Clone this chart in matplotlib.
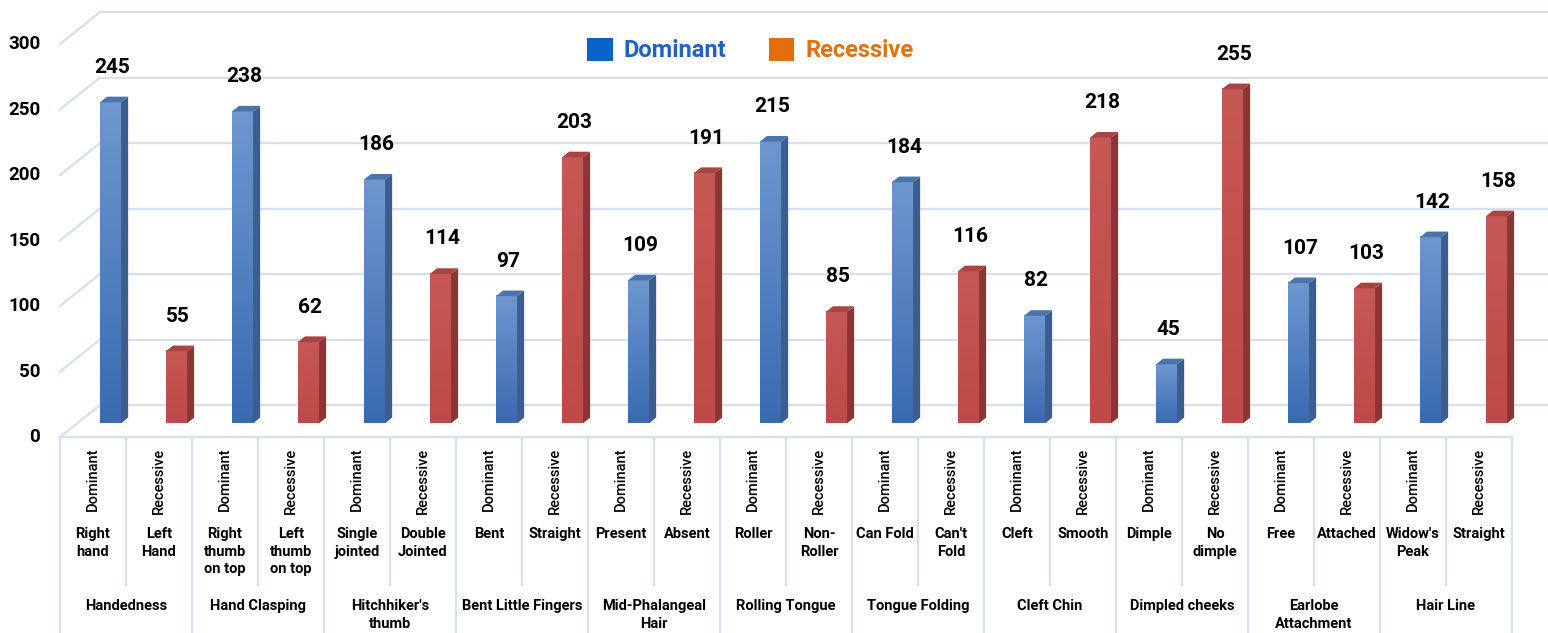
import numpy as np
import matplotlib
matplotlib.use('Agg')
import matplotlib.pyplot as plt
from matplotlib.patches import Polygon, Patch

plt.rcParams['font.family'] = ['Roboto', 'DejaVu Sans']
plt.rcParams['font.weight'] = 'bold'

# data
groups = ['Handedness', 'Hand Clasping', "Hitchhiker's\nthumb", 'Bent Little Fingers',
          'Mid-Phalangeal\nHair', 'Rolling Tongue', 'Tongue Folding', 'Cleft Chin',
          'Dimpled cheeks', 'Earlobe\nAttachment', 'Hair Line']
dominant_traits = ['Right\nhand', 'Right\nthumb\non top', 'Single\njointed', 'Bent', 'Present',
                   'Roller', 'Can Fold', 'Cleft', 'Dimple', 'Free', "Widow's\nPeak"]
recessive_traits = ['Left\nHand', 'Left\nthumb\non top', 'Double\nJointed', 'Straight', 'Absent',
                    'Non-\nRoller', "Can't\nFold", 'Smooth', 'No\ndimple', 'Attached', 'Straight']
dominant = [245, 238, 186, 97, 109, 215, 184, 82, 45, 107, 142]
recessive = [55, 62, 114, 203, 191, 85, 116, 218, 255, 103, 158]
yticks = [0, 50, 100, 150, 200, 250, 300]

# 3d look parameters (x in cells, y in value units)
depth_dx, depth_dy = 0.606, 24.4      # front -> back wall
bar_shift, bar_base = 0.266, 10.5     # where the bars stand on the floor
bar_w, bar_dx, bar_dy = 0.32, 0.106, 4.3
grid_c = '#D5E0F1'

fig = plt.figure(figsize=(15.48, 6.33), dpi=100)
ax = fig.add_axes([0, 0, 1, 1])
ax.axis('off')

n = 2 * len(dominant)
right = n

# walls / gridlines
for v in yticks:
    ax.plot([0, depth_dx], [v, v + depth_dy], color=grid_c, lw=1.6, zorder=1)
    ax.plot([depth_dx, right + depth_dx], [v + depth_dy, v + depth_dy], color=grid_c, lw=1.6, zorder=1)
    ax.text(-0.30, v, str(v), ha='right', va='center', fontsize=13.5, fontweight='bold')
ax.plot([0, right], [0, 0], color=grid_c, lw=1.6, zorder=1)

# category dividers
for k in range(n + 1):
    bottom = -150 if k % 2 == 0 else -113
    ax.plot([k, k], [0, bottom], color=grid_c, lw=1.6, zorder=1)


def draw_bar(i, v, top_c, bot_c, side_c, roof_c):
    x0 = i + 0.5 + bar_shift - bar_w / 2
    y0 = bar_base
    grad = np.linspace(0, 1, 64)[:, None, None]
    img = np.array(matplotlib.colors.to_rgb(bot_c)) * (1 - grad) + np.array(matplotlib.colors.to_rgb(top_c)) * grad
    ax.imshow(img, extent=[x0, x0 + bar_w, y0, y0 + v], origin='lower', aspect='auto', zorder=3)
    side = [(x0 + bar_w, y0), (x0 + bar_w + bar_dx, y0 + bar_dy),
            (x0 + bar_w + bar_dx, y0 + v + bar_dy), (x0 + bar_w, y0 + v)]
    roof = [(x0, y0 + v), (x0 + bar_w, y0 + v),
            (x0 + bar_w + bar_dx, y0 + v + bar_dy), (x0 + bar_dx, y0 + v + bar_dy)]
    ax.add_patch(Polygon(side, closed=True, fc=side_c, ec='none', zorder=3))
    ax.add_patch(Polygon(roof, closed=True, fc=roof_c, ec='none', zorder=3))
    ax.text(x0 + bar_w / 2 + 0.02, y0 + v + 22.5, str(v), ha='center', va='baseline',
            fontsize=15, fontweight='bold', zorder=4)


for g in range(len(dominant)):
    i_d, i_r = 2 * g, 2 * g + 1
    draw_bar(i_d, dominant[g], '#6E97CF', '#3A6BB1', '#3B5E8E', '#4B74AB')
    draw_bar(i_r, recessive[g], '#C65855', '#BD4A47', '#8A3634', '#A84442')
    for i, lab in ((i_d, 'Dominant'), (i_r, 'Recessive')):
        ax.text(i + 0.5, -8, lab, rotation=90, ha='center', va='top', fontsize=10.5, fontweight='medium')
    ax.text(i_d + 0.5, -69, dominant_traits[g], ha='center', va='top', fontsize=10.5,
            fontweight='bold', linespacing=1.3)
    ax.text(i_r + 0.5, -69, recessive_traits[g], ha='center', va='top', fontsize=10.5,
            fontweight='bold', linespacing=1.3)
    ax.text(i_d + 1, -124, groups[g], ha='center', va='top', fontsize=10.5,
            fontweight='bold', linespacing=1.3)

ax.set_xlim(-60 / 66, (1548 - 60) / 66)
ax.set_ylim((437 - 633) / 1.31, 437 / 1.31)

handles = [Patch(fc='#0A63C9', ec='none', label='Dominant'),
           Patch(fc='#E26E0A', ec='none', label='Recessive')]
fig.legend(handles=handles, loc='center', bbox_to_anchor=(0.4845, 0.921), ncol=2, frameon=False,
           handlelength=1.1, handleheight=1.15, handletextpad=0.45, columnspacing=1.8,
           labelcolor=['#1F62C4', '#E2720F'], prop={'weight': 'bold', 'size': 17})

fig.savefig('out.png', dpi=100)
